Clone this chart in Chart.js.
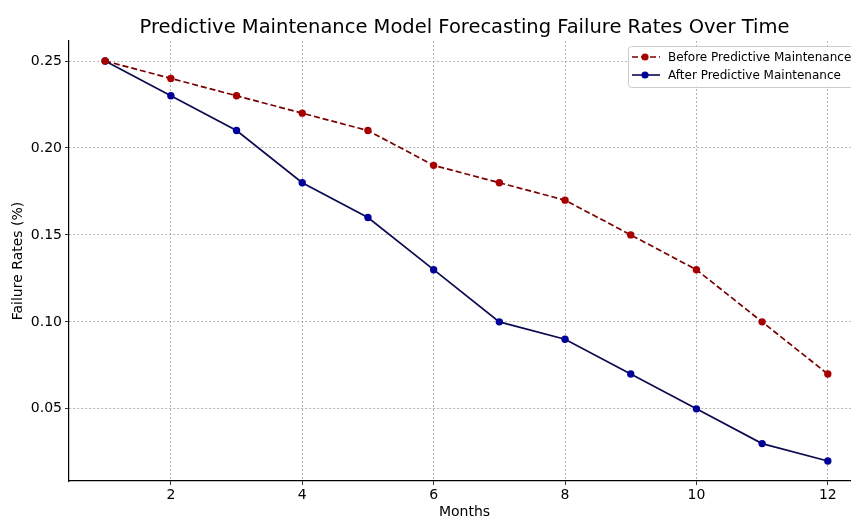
<!DOCTYPE html>
<html>
<head>
<meta charset="utf-8">
<script src="https://cdn.jsdelivr.net/npm/chart.js@4"></script>
<style>
  html, body { margin: 0; padding: 0; background: #fff; overflow: hidden; }
  #wrap { width: 864px; height: 516px; }
</style>
</head>
<body>
<div id="wrap"><canvas id="chart"></canvas></div>
<script>
const months = [1, 2, 3, 4, 5, 6, 7, 8, 9, 10, 11, 12];
const beforeRates = [0.25, 0.24, 0.23, 0.22, 0.21, 0.19, 0.18, 0.17, 0.15, 0.13, 0.10, 0.07];
const afterRates = [0.25, 0.23, 0.21, 0.18, 0.16, 0.13, 0.10, 0.09, 0.07, 0.05, 0.03, 0.02];
const xTicks = [2, 4, 6, 8, 10, 12];
const yTicks = [0.05, 0.10, 0.15, 0.20, 0.25];

const FONT = "'DejaVu Sans', sans-serif";

function toPoints(values) {
  return months.map((m, i) => ({ x: m, y: values[i] }));
}

// legend box drawn inside the plot, top right, like the original
const insideLegend = {
  id: 'insideLegend',
  afterDraw(chart) {
    const ctx = chart.ctx;
    const x = 628, y = 46, w = 230, h = 41;
    ctx.save();
    ctx.fillStyle = 'rgba(255,255,255,0.85)';
    ctx.strokeStyle = '#cccccc';
    ctx.lineWidth = 1;
    ctx.beginPath();
    ctx.roundRect(x + 0.5, y + 0.5, w, h, 3);
    ctx.fill();
    ctx.stroke();

    chart.data.datasets.forEach((ds, i) => {
      const rowY = y + 11 + i * 18;
      ctx.strokeStyle = ds.borderColor;
      ctx.lineWidth = 1.6;
      ctx.setLineDash(ds.borderDash || []);
      ctx.beginPath();
      ctx.moveTo(x + 4, rowY);
      ctx.lineTo(x + 32, rowY);
      ctx.stroke();
      ctx.setLineDash([]);
      ctx.fillStyle = ds.pointBackgroundColor;
      ctx.beginPath();
      ctx.arc(x + 17, rowY, 3.6, 0, Math.PI * 2);
      ctx.fill();
      ctx.fillStyle = '#000';
      ctx.font = '12px ' + FONT;
      ctx.textBaseline = 'middle';
      ctx.fillText(ds.label, x + 40, rowY + 1);
    });
    ctx.restore();
  }
};

const gridOpts = {
  color: '#a0a0a0',
  tickColor: '#000',
  tickLength: 4,
  lineWidth: 0.8,
};
// in v4 the grid line dash is read from border.dash
const borderOpts = { color: '#000', width: 1.2, dash: [2, 2] };

new Chart(document.getElementById('chart'), {
  type: 'line',
  data: {
    datasets: [
      {
        label: 'Before Predictive Maintenance',
        data: toPoints(beforeRates),
        borderColor: '#7a0000',
        borderWidth: 1.7,
        borderDash: [6, 3],
        pointBackgroundColor: '#a80000',
        pointBorderColor: '#a80000',
        pointRadius: 3.7,
        pointBorderWidth: 0,
        tension: 0,
      },
      {
        label: 'After Predictive Maintenance',
        data: toPoints(afterRates),
        borderColor: '#0b0b50',
        borderWidth: 1.7,
        pointBackgroundColor: '#00009a',
        pointBorderColor: '#00009a',
        pointRadius: 3.7,
        pointBorderWidth: 0,
        tension: 0,
      },
    ],
  },
  options: {
    responsive: true,
    maintainAspectRatio: false,
    animation: false,
    layout: { padding: 0 },
    plugins: {
      legend: { display: false },
      tooltip: { enabled: false },
      title: {
        display: true,
        fullSize: false, // centre over the plot area, not the canvas
        text: 'Predictive Maintenance Model Forecasting Failure Rates Over Time',
        color: '#000',
        font: { family: FONT, size: 19.5, weight: 'normal' },
        padding: { top: 16, bottom: 1.6 },
      },
    },
    scales: {
      x: {
        type: 'linear',
        min: 0.45,
        max: 12.49,
        afterBuildTicks: (scale) => { scale.ticks = xTicks.map((v) => ({ value: v })); },
        afterFit: (scale) => { scale.height = 35; },
        ticks: {
          color: '#000',
          font: { family: FONT, size: 14 },
          padding: 2,
          maxRotation: 0,
          callback: (v) => String(v),
        },
        grid: gridOpts,
        border: borderOpts,
        title: {
          display: true,
          text: 'Months',
          color: '#000',
          font: { family: FONT, size: 14 },
          padding: { top: 0, bottom: -5 },
        },
      },
      y: {
        type: 'linear',
        min: 0.0085,
        max: 0.2615,
        afterBuildTicks: (scale) => { scale.ticks = yTicks.map((v) => ({ value: v })); },
        afterFit: (scale) => { scale.width = 69; },
        ticks: {
          color: '#000',
          font: { family: FONT, size: 14 },
          padding: 3,
          callback: (v) => v.toFixed(2),
        },
        grid: gridOpts,
        border: borderOpts,
        title: {
          display: true,
          text: 'Failure Rates (%)',
          color: '#000',
          font: { family: FONT, size: 14 },
          padding: { top: 10, bottom: 0 },
        },
      },
    },
  },
  plugins: [insideLegend],
});
</script>
</body>
</html>
